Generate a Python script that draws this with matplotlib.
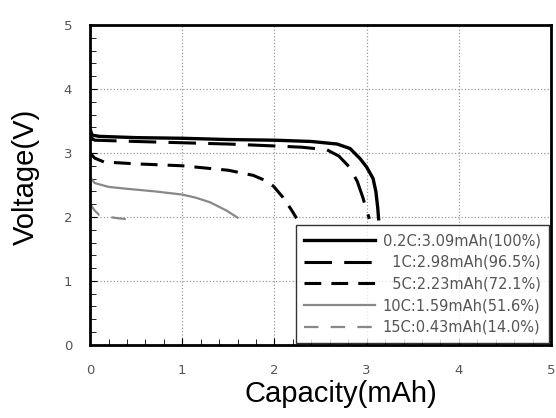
import matplotlib
matplotlib.use('Agg')
from matplotlib import pyplot as plt
from matplotlib.ticker import MultipleLocator

# discharge curves
cap_02c = [0.0, 0.02, 0.1, 0.5, 1.0, 1.5, 2.0, 2.4, 2.68, 2.82, 2.93, 3.0, 3.07, 3.1, 3.12, 3.13]
volt_02c = [3.38, 3.28, 3.26, 3.24, 3.23, 3.21, 3.2, 3.18, 3.14, 3.07, 2.91, 2.78, 2.6, 2.4, 2.15, 1.97]

cap_1c = [0.0, 0.05, 0.5, 1.0, 1.5, 2.0, 2.3, 2.57, 2.7, 2.82, 2.9, 2.96, 3.0, 3.03]
volt_1c = [3.25, 3.2, 3.18, 3.16, 3.14, 3.11, 3.09, 3.05, 2.95, 2.77, 2.55, 2.3, 2.1, 1.97]

cap_5c = [0.0, 0.05, 0.15, 0.5, 1.0, 1.5, 1.77, 1.9, 1.99, 2.09, 2.18, 2.24]
volt_5c = [3.0, 2.92, 2.86, 2.83, 2.8, 2.73, 2.65, 2.57, 2.48, 2.31, 2.12, 1.98]

cap_10c = [0.0, 0.05, 0.2, 0.4, 0.7, 1.0, 1.15, 1.3, 1.48, 1.6]
volt_10c = [2.62, 2.53, 2.47, 2.44, 2.4, 2.35, 2.3, 2.23, 2.1, 1.99]

cap_15c = [0.0, 0.05, 0.1, 0.2, 0.3, 0.43]
volt_15c = [2.2, 2.1, 2.03, 2.0, 1.98, 1.96]

labels = ['0.2C:3.09mAh(100%)', '\u20071C:2.98mAh(96.5%)', '\u20075C:2.23mAh(72.1%)',
          '10C:1.59mAh(51.6%)', '15C:0.43mAh(14.0%)']

fig = plt.figure(figsize=(5.56, 4.18), dpi=100)
ax = fig.add_axes([0.162, 0.175, 0.829, 0.765])

ax.plot(cap_02c, volt_02c, color='black', lw=2.4, label=labels[0])
ax.plot(cap_1c, volt_1c, color='black', lw=2.2, dashes=(9, 4), label=labels[1])
ax.plot(cap_5c, volt_5c, color='black', lw=2.2, dashes=(5.5, 3.3), label=labels[2])
ax.plot(cap_10c, volt_10c, color='#888888', lw=1.6, label=labels[3])
ax.plot(cap_15c, volt_15c, color='#888888', lw=1.6, dashes=(6.5, 5.5), label=labels[4])

ax.set_xlim(0, 5)
ax.set_ylim(0, 5)
ax.xaxis.set_major_locator(MultipleLocator(1))
ax.yaxis.set_major_locator(MultipleLocator(1))
ax.xaxis.set_minor_locator(MultipleLocator(0.2))
ax.yaxis.set_minor_locator(MultipleLocator(0.2))
ax.tick_params(which='both', direction='in', colors='#555555', labelsize=9.5,
               top=False, right=False)
ax.tick_params(axis='x', which='major', pad=14)
ax.tick_params(axis='y', which='major', pad=13)
ax.tick_params(which='major', length=5, color='black')
ax.tick_params(which='minor', length=4, color='black')
ax.grid(True, which='major', color='#999999', linestyle=':', lw=0.9)

for s in ax.spines.values():
    s.set_linewidth(2)

ax.set_xlabel('Capacity(mAh)', fontsize=21, family='Liberation Sans', labelpad=2)
ax.set_ylabel('Voltage(V)', fontsize=21, family='Liberation Sans', labelpad=17)
ax.xaxis.label.set_x(0.544)
ax.yaxis.label.set_y(0.525)

leg = ax.legend(loc='lower right', fontsize=10.5, frameon=True, fancybox=False,
                edgecolor='black', handlelength=4.9, borderpad=0.55, labelspacing=0.45,
                borderaxespad=0.15, handletextpad=0.5)
leg.get_frame().set_linewidth(1)
for t in leg.get_texts():
    t.set_color('#555555')

fig.savefig('out.png', dpi=100)
